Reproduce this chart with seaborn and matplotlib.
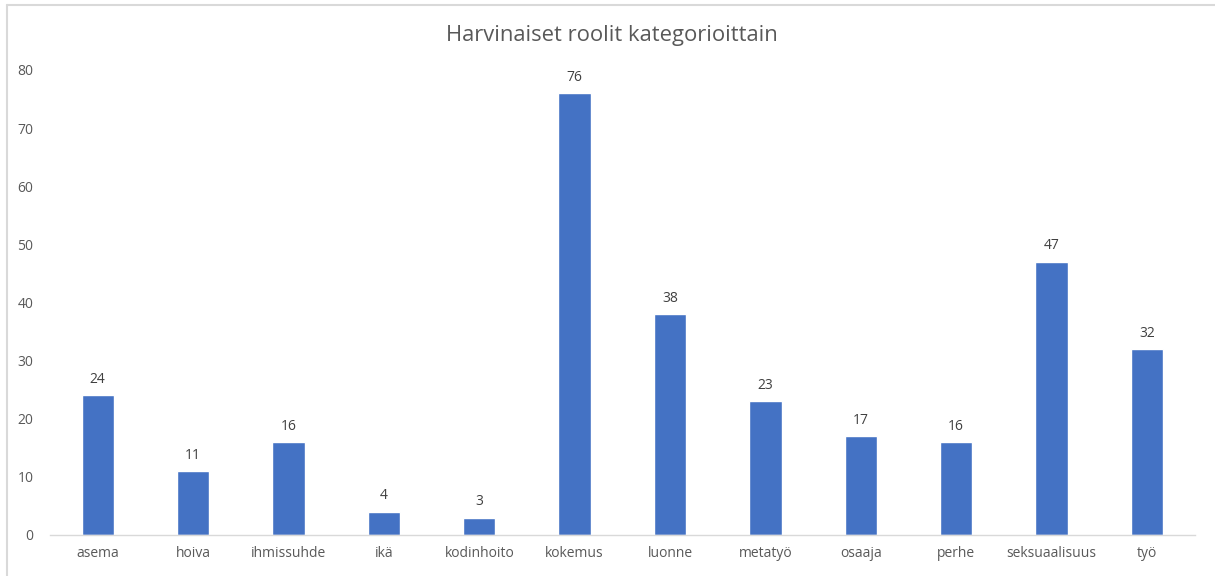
import matplotlib
matplotlib.use("Agg")
import matplotlib.pyplot as plt
import seaborn as sns
import pandas as pd

# ── Data ───────────────────────────────────────────────────────────────────
categories = ["asema", "hoiva", "ihmissuhde", "ikä", "kodinhoito", "kokemus",
              "luonne", "metatyö", "osaaja", "perhe", "seksuaalisuus", "työ"]
counts = [24, 11, 16, 4, 3, 76, 38, 23, 17, 16, 47, 32]
title = "Harvinaiset roolit kategorioittain"

BAR = "#4472C4"
TEXT = "#595959"
AXIS = "#D9D9D9"

sns.set_theme(style="white")
plt.rcParams["font.family"] = ["Open Sans", "DejaVu Sans"]

df = pd.DataFrame({"category": categories, "count": counts})

fig = plt.figure(figsize=(12.15, 5.76), dpi=100)
ax = fig.add_axes([0.0412, 0.0712, 0.942, 0.8073])

sns.barplot(data=df, x="category", y="count", color=BAR, width=0.34,
            saturation=1, ax=ax)

for c in ax.containers:
    ax.bar_label(c, padding=6, fontsize=10, color="#404040")

ax.set_ylim(0, 80)
ax.set_xlim(-0.5, len(categories) - 0.5)
ax.set_yticks(range(0, 81, 10))
ax.set_xlabel("")
ax.set_ylabel("")
ax.tick_params(axis="both", length=0, labelsize=10, colors=TEXT)
ax.tick_params(axis="y", pad=12)
ax.tick_params(axis="x", pad=8)
for s in ["top", "right", "left"]:
    ax.spines[s].set_visible(False)
ax.spines["bottom"].set_color(AXIS)
ax.spines["bottom"].set_linewidth(1)

fig.text(0.504, 0.938, title, ha="center", va="center", fontsize=15.8, color=TEXT)

# chart border (Excel-style frame)
fig.add_artist(plt.Line2D([0.006, 1.0], [0.991, 0.991], color=AXIS, lw=1.5,
                          transform=fig.transFigure))
fig.add_artist(plt.Line2D([0.006, 0.006], [0.0, 0.991], color=AXIS, lw=1.5,
                          transform=fig.transFigure))

fig.savefig("out.png", dpi=100, facecolor="white")
